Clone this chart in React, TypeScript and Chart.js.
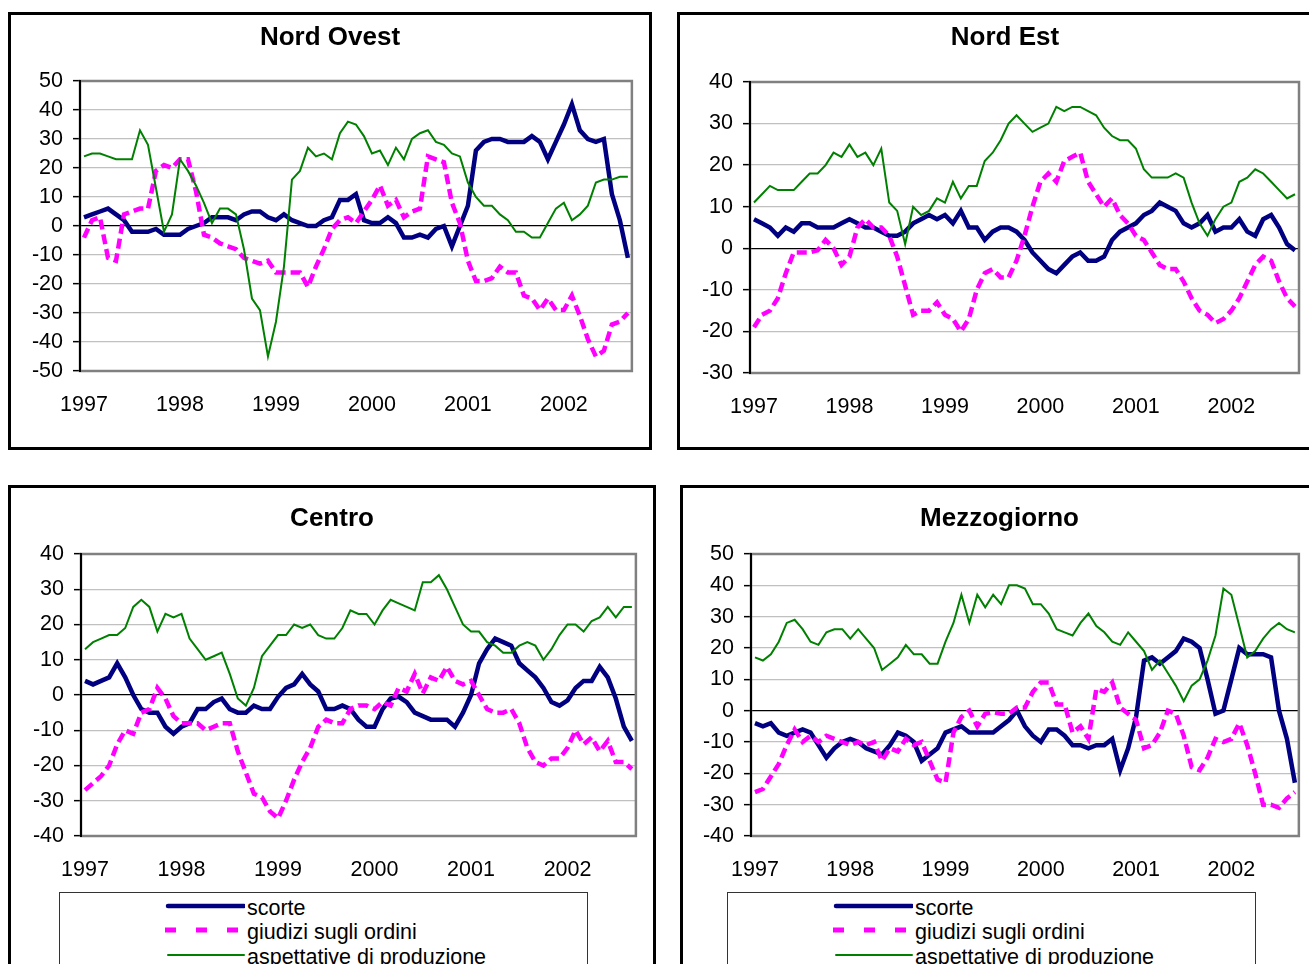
import React, { useEffect, useRef } from 'react';
import { Chart, registerables } from 'chart.js';

Chart.register(...registerables);

// ---------- DATA ----------
const YEARS = ['1997', '1998', '1999', '2000', '2001', '2002'];
const N_MONTHS = 69; // Jan 1997 .. Sep 2002
const CATEGORIES: string[] = Array.from({ length: N_MONTHS }, (_, i) =>
  `${YEARS[Math.floor(i / 12)]}-${String((i % 12) + 1).padStart(2, '0')}`
);

const SERIES_NAMES = ['scorte', 'giudizi sugli ordini', 'aspettative di produzione'];

// Nord Ovest
const NO_SCORTE = [3, 4, 5, 6, 4, 2, -2, -2, -2, -1, -3, -3, -3, -1, 0, 1, 3, 3, 3, 2, 4, 5, 5, 3, 2, 4, 2, 1, 0, 0, 2, 3, 9, 9,
  11, 2, 1, 1, 3, 1, -4, -4, -3, -4, -1, 0, -7, 0, 7, 26, 29, 30, 30, 29, 29, 29, 31, 29, 23, 29, 35, 42, 33, 30, 29, 30, 11, 2, -11];
const NO_GIUDIZI = [-4, 2, 3, -11, -12, 4, 5, 6, 6, 19, 21, 20, 23, 23, 12, -3, -4, -6, -7, -8, -11, -12, -13, -12, -16, -16, -16, -16, -21, -14, -8, -1, 2, 3,
  1, 5, 9, 14, 7, 9, 3, 5, 6, 24, 23, 22, 8, 1, -12, -19, -19, -18, -14, -16, -16, -24, -25, -29, -25, -29, -29, -24, -31, -39, -45, -43, -34, -33, -30];
const NO_ASPETT = [24, 25, 25, 24, 23, 23, 23, 33, 28, 13, -2, 4, 23, 19, 14, 8, 1, 6, 6, 4, -8, -25, -29, -45, -33, -14, 16, 19, 27, 24, 25, 23, 32, 36,
  35, 31, 25, 26, 21, 27, 23, 30, 32, 33, 29, 28, 25, 24, 15, 10, 7, 7, 4, 2, -2, -2, -4, -4, 1, 6, 8, 2, 4, 7, 15, 16, 16, 17, 17];

// Nord Est
const NE_SCORTE = [7, 6, 5, 3, 5, 4, 6, 6, 5, 5, 5, 6, 7, 6, 5, 5, 4, 3, 3, 4, 6, 7, 8, 7, 8, 6, 9, 5, 5, 2, 4, 5, 5, 4,
  2, -1, -3, -5, -6, -4, -2, -1, -3, -3, -2, 2, 4, 5, 6, 8, 9, 11, 10, 9, 6, 5, 6, 8, 4, 5, 5, 7, 4, 3, 7, 8, 5, 1, -0.5];
const NE_GIUDIZI = [-19, -16, -15, -12, -6, -1, -1, -1, -0.5, 2, 0, -4, -2, 5, 7, 5, 5, 3, -2, -9, -16, -15, -15, -13, -16, -17, -20, -17, -10, -6, -5, -7, -7, -3,
  3, 10, 16, 18, 16, 21, 22, 23, 16, 13, 10, 12, 8, 6, 3, 2, -1, -4, -5, -5, -8, -12, -15, -16, -18, -17, -15, -12, -8, -4, -2, -3, -8, -12, -14];
const NE_ASPETT = [11, 13, 15, 14, 14, 14, 16, 18, 18, 20, 23, 22, 25, 22, 23, 20, 24, 11, 9, 1, 10, 8, 9, 12, 11, 16, 12, 15, 15, 21, 23, 26, 30, 32,
  30, 28, 29, 30, 34, 33, 34, 34, 33, 32, 29, 27, 26, 26, 24, 19, 17, 17, 17, 18, 17, 11, 6, 3, 7, 10, 11, 16, 17, 19, 18, 16, 14, 12, 13];

// Centro
const CE_SCORTE = [4, 3, 4, 5, 9, 5, 0, -4, -5, -5, -9, -11, -9, -8, -4, -4, -2, -1, -4, -5, -5, -3, -4, -4, -0.5, 2, 3, 6, 3, 1, -4, -4, -3, -4,
  -7, -9, -9, -4, -1, -0.5, -2, -5, -6, -7, -7, -7, -9, -5, 0, 9, 13, 16, 15, 14, 9, 7, 5, 2, -2, -3, -1.5, 2, 4, 4, 8, 5, -1, -9, -13];
const CE_GIUDIZI = [-27, -25, -23, -20, -14, -10, -11, -5, -4, 2, -1, -6, -8, -8, -8, -10, -9, -8, -8, -16, -22, -28, -29, -33, -35, -30, -24, -19, -15, -9, -7, -8, -8, -4,
  -3, -3, -4, -2, -3, 2, 1, 6, 0.5, 5, 4, 8, 4, 3, 4, 0, -4, -5, -5, -4, -8, -15, -19, -20, -18, -18, -15, -10, -14, -12, -16, -13, -19, -19, -21];
const CE_ASPETT = [13, 15, 16, 17, 17, 19, 25, 27, 25, 18, 23, 22, 23, 16, 13, 10, 11, 12, 6, -1, -3, 2, 11, 14, 17, 17, 20, 19, 20, 17, 16, 16, 19, 24,
  23, 23, 20, 24, 27, 26, 25, 24, 32, 32, 34, 30, 25, 20, 18, 18, 15, 14, 12, 12, 14, 15, 14, 10, 13, 17, 20, 20, 18, 21, 22, 25, 22, 25, 25];

// Mezzogiorno
const ME_SCORTE = [-4, -5, -4, -7, -8, -7, -6, -7, -11, -15, -12, -10, -9, -10, -12, -13, -14, -11, -7, -8, -10, -16, -14, -12, -7, -6, -5, -7, -7, -7, -7, -5, -3, 0,
  -5, -8, -10, -6, -6, -8, -11, -11, -12, -11, -11, -9, -19, -12, -2, 16, 17, 15, 17, 19, 23, 22, 20, 10, -1, 0, 10, 20, 18, 18, 18, 17, 0, -9, -23];
const ME_GIUDIZI = [-26, -25, -21, -17, -11, -6, -10, -8, -10, -8, -9, -10, -11, -10, -11, -10, -16, -12, -13, -9, -11, -10, -16, -22, -23, -7, -2, 0, -5, -1, -0.5, -1, -1, 1,
  1, 6, 9, 9, 2, 2, -7, -5, -9, 7, 6, 9, 1, -1, -3, -12, -11, -7, 0, -1, -8, -18, -19, -15, -9, -10, -9, -4, -11, -20, -30, -30, -31, -28, -26];
const ME_ASPETT = [17, 16, 18, 22, 28, 29, 26, 22, 21, 25, 26, 26, 23, 26, 23, 20, 13, 15, 17, 21, 18, 18, 15, 15, 22, 28, 37, 28, 37, 33, 37, 34, 40, 40,
  39, 34, 34, 31, 26, 25, 24, 28, 31, 27, 25, 22, 21, 25, 22, 19, 13, 16, 12, 8, 3, 8, 10, 16, 24, 39, 37, 27, 17, 19, 23, 26, 28, 26, 25];

// ---------- STYLES ----------
const FONT = "'Liberation Sans', Arial, sans-serif";
const SERIES_STYLES = [
  { color: '#000080', width: 4.5, dash: [] as number[], order: 2 },
  { color: '#FF00FF', width: 4.5, dash: [10, 5], order: 1 },
  { color: '#008000', width: 2, dash: [] as number[], order: 0 },
];

type Rect = { left: number; top: number; width: number; height: number };
type Plot = { left: number; top: number; right: number; bottom: number };

const framePlugin = {
  id: 'plotFrame',
  beforeDatasetsDraw(chart: any) {
    const { ctx, chartArea } = chart;
    const { left, top, right, bottom } = chartArea;
    ctx.save();
    ctx.strokeStyle = '#808080';
    ctx.lineWidth = 2.5;
    ctx.strokeRect(left, top, right - left, bottom - top);
    ctx.strokeStyle = '#000';
    ctx.lineWidth = 2;
    ctx.beginPath();
    ctx.moveTo(left, top - 1);
    ctx.lineTo(left, bottom + 1);
    ctx.stroke();
    ctx.restore();
  },
};

type PanelProps = {
  title: string;
  titleCenterX: number;
  titleCenterY: number;
  frame: Rect;
  plot: Plot;
  yMin: number;
  yMax: number;
  series: number[][];
  legend?: Rect;
};

function Panel(p: PanelProps) {
  const ref = useRef<HTMLCanvasElement | null>(null);
  const cx = p.frame.left + 3;
  const cy = p.frame.top + 3;
  const cw = p.frame.width - 6;
  const ch = p.frame.height - 6;

  useEffect(() => {
    if (!ref.current) return;
    const padTop = p.plot.top - cy;
    const padRight = cx + cw - p.plot.right;
    const yWidth = p.plot.left - cx;
    const xHeight = cy + ch - p.plot.bottom;
    const chart = new Chart(ref.current, {
      type: 'line',
      data: {
        labels: CATEGORIES,
        datasets: p.series.map((values, k) => ({
          label: SERIES_NAMES[k],
          data: values,
          borderColor: SERIES_STYLES[k].color,
          backgroundColor: SERIES_STYLES[k].color,
          borderWidth: SERIES_STYLES[k].width,
          borderDash: SERIES_STYLES[k].dash,
          borderCapStyle: 'butt',
          borderJoinStyle: 'miter',
          pointRadius: 0,
          pointHoverRadius: 0,
          tension: 0,
          fill: false,
          order: SERIES_STYLES[k].order,
        })),
      },
      options: {
        animation: false,
        responsive: false,
        devicePixelRatio: 1,
        layout: { padding: { top: padTop, right: padRight, left: 0, bottom: 0 } },
        plugins: {
          legend: { display: false },
          title: { display: false },
          tooltip: { enabled: false },
        },
        scales: {
          x: {
            type: 'category',
            offset: true,
            grid: { display: false, drawTicks: false },
            border: { display: false },
            ticks: {
              autoSkip: false,
              maxRotation: 0,
              minRotation: 0,
              padding: 21,
              color: '#000',
              font: { family: FONT, size: 21.5 },
              callback: (_v: any, idx: number) => (idx % 12 === 0 ? CATEGORIES[idx].slice(0, 4) : ''),
            },
            afterFit: (scale: any) => { scale.height = xHeight; },
          },
          y: {
            min: p.yMin,
            max: p.yMax,
            border: { display: false },
            grid: {
              color: (c: any) => (c.tick && c.tick.value === 0 ? '#000000' : '#c0c0c0'),
              lineWidth: 1.3,
              drawTicks: true,
              tickLength: 7,
              tickColor: '#000',
              tickWidth: 1.5,
            },
            ticks: {
              stepSize: 10,
              padding: 10,
              color: '#000',
              font: { family: FONT, size: 21.5 },
            },
            afterFit: (scale: any) => { scale.width = yWidth; },
          },
        },
      },
      plugins: [framePlugin],
    } as any);
    return () => chart.destroy();
  }, []);

  return (
    <>
      <div
        style={{
          position: 'absolute', left: p.frame.left, top: p.frame.top,
          width: p.frame.width, height: p.frame.height, boxSizing: 'border-box',
          border: '3px solid #000', background: '#fff',
        }}
      />
      <canvas
        ref={ref}
        width={cw}
        height={ch}
        style={{ position: 'absolute', left: cx, top: cy, width: cw, height: ch }}
      />
      <div
        style={{
          position: 'absolute', left: p.titleCenterX - 200, top: p.titleCenterY - 15,
          width: 400, height: 30, lineHeight: '30px', textAlign: 'center',
          fontFamily: FONT, fontWeight: 'bold', fontSize: 26, color: '#000',
        }}
      >
        {p.title}
      </div>
      {p.legend && <Legend box={p.legend} />}
    </>
  );
}

function Legend({ box }: { box: Rect }) {
  const rowCenters = [13, 37, 62];
  return (
    <div
      style={{
        position: 'absolute', left: box.left, top: box.top, width: box.width, height: box.height,
        boxSizing: 'border-box', border: '1px solid #333', background: '#fff',
      }}
    >
      {SERIES_NAMES.map((name, k) => {
        const s = SERIES_STYLES[k];
        const legendDash = k === 1 ? '11 20' : undefined;
        return (
          <React.Fragment key={name}>
            <svg
              width={80}
              height={12}
              style={{ position: 'absolute', left: 105, top: rowCenters[k] - 6 }}
            >
              <line
                x1={k === 1 ? 0 : 3}
                y1={6}
                x2={k === 1 ? 80 : 79}
                y2={6}
                stroke={s.color}
                strokeWidth={k === 1 ? 5 : s.width}
                strokeDasharray={legendDash}
                strokeLinecap={k === 1 ? 'butt' : 'round'}
              />
            </svg>
            <div
              style={{
                position: 'absolute', left: 187, top: rowCenters[k] - 10, height: 24, lineHeight: '24px',
                fontFamily: FONT, fontSize: 21.5, color: '#000', whiteSpace: 'nowrap',
              }}
            >
              {name}
            </div>
          </React.Fragment>
        );
      })}
    </div>
  );
}

export default function App() {
  return (
    <div style={{ position: 'fixed', left: 0, top: 0, width: 1309, height: 964, overflow: 'hidden', background: '#fff' }}>
      <Panel
        title="Nord Ovest"
        titleCenterX={330}
        titleCenterY={36}
        frame={{ left: 8, top: 12, width: 644, height: 438 }}
        plot={{ left: 80, top: 81, right: 632, bottom: 371 }}
        yMin={-50}
        yMax={50}
        series={[NO_SCORTE, NO_GIUDIZI, NO_ASPETT]}
      />
      <Panel
        title="Nord Est"
        titleCenterX={1005}
        titleCenterY={36}
        frame={{ left: 677, top: 12, width: 656, height: 438 }}
        plot={{ left: 750, top: 82, right: 1299, bottom: 373 }}
        yMin={-30}
        yMax={40}
        series={[NE_SCORTE, NE_GIUDIZI, NE_ASPETT]}
      />
      <Panel
        title="Centro"
        titleCenterX={332}
        titleCenterY={517}
        frame={{ left: 8, top: 485, width: 648, height: 520 }}
        plot={{ left: 81, top: 554, right: 636, bottom: 836 }}
        yMin={-40}
        yMax={40}
        series={[CE_SCORTE, CE_GIUDIZI, CE_ASPETT]}
        legend={{ left: 59, top: 892, width: 529, height: 100 }}
      />
      <Panel
        title="Mezzogiorno"
        titleCenterX={999.5}
        titleCenterY={517}
        frame={{ left: 680, top: 485, width: 639, height: 520 }}
        plot={{ left: 751, top: 554, right: 1299, bottom: 836 }}
        yMin={-40}
        yMax={50}
        series={[ME_SCORTE, ME_GIUDIZI, ME_ASPETT]}
        legend={{ left: 727, top: 892, width: 529, height: 100 }}
      />
    </div>
  );
}
